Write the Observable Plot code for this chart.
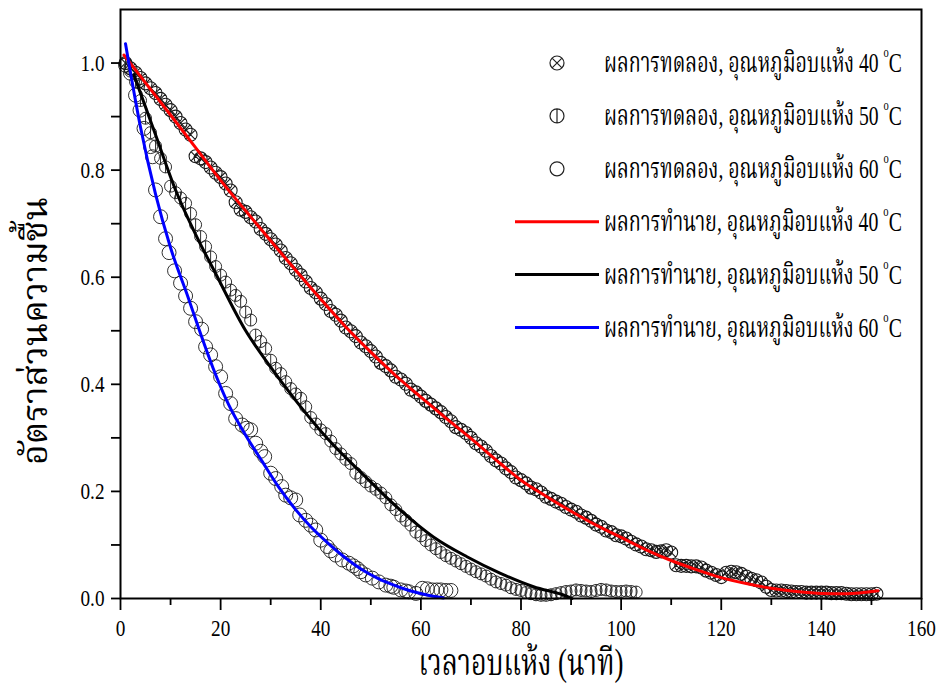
<!DOCTYPE html>
<html><head><meta charset="utf-8">
<script src="https://cdn.jsdelivr.net/npm/d3@7"></script>
<script src="https://cdn.jsdelivr.net/npm/@observablehq/plot@0.6"></script>
<style>
body{margin:0;background:#fff;}
#wrap{position:relative;width:941px;height:684px;background:#fff;}
#wrap svg{position:absolute;left:0;top:0;}
</style></head><body><div id="wrap"></div>
<script>
// ---------- data ----------
const temps = ["40", "50", "60"];
const expPrefix = "ผลการทดลอง, อุณหภูมิอบแห้ง ";
const predPrefix = "ผลการทำนาย, อุณหภูมิอบแห้ง ";
const xTitle = "เวลาอบแห้ง (นาที)";
const yTitle = "อัตราส่วนความชื้น";

const majorX = [0, 20, 40, 60, 80, 100, 120, 140, 160];
const minorX = [10, 30, 50, 70, 90, 110, 130, 150];
const majorY = [0, 0.2, 0.4, 0.6, 0.8, 1.0];
const minorY = [0.1, 0.3, 0.5, 0.7, 0.9];

// experiment 40 C
const t40 = [1,2,3,4,5,6,7,8,9,10,11,12,13,14,15,16,17,18,19,20,21,22,23,24,25,26,27,28,29,30,
31,32,33,34,35,36,37,38,39,40,41,42,43,44,45,46,47,48,49,50,51,52,53,54,55,56,57,58,59,60,
61,62,63,64,65,66,67,68,69,70,71,72,73,74,75,76,77,78,79,80,81,82,83,84,85,86,87,88,89,90,
91,92,93,94,95,96,97,98,99,100,101,102,103,104,105,106,107,108,109,110,111,112,113,114,115,116,117,118,119,120,
121,122,123,124,125,126,127,128,129,130,131,132,133,134,135,136,137,138,139,140,141,142,143,144,145,146,147,148,149,150,151];
const y40 = [1.000,0.990,0.982,0.972,0.962,0.953,0.944,0.933,0.922,0.912,
0.900,0.888,0.876,0.866,0.826,0.822,0.815,0.805,0.795,0.787,
0.775,0.762,0.740,0.726,0.722,0.712,0.704,0.690,0.681,0.671,
0.661,0.650,0.636,0.626,0.614,0.604,0.592,0.580,0.572,0.560,
0.550,0.537,0.530,0.519,0.506,0.499,0.490,0.478,0.471,0.462,
0.452,0.440,0.434,0.426,0.414,0.409,0.401,0.390,0.385,0.377,
0.369,0.362,0.355,0.348,0.339,0.331,0.320,0.315,0.309,0.300,
0.290,0.284,0.276,0.266,0.258,0.252,0.243,0.236,0.226,0.221,
0.215,0.207,0.204,0.198,0.190,0.186,0.181,0.177,0.171,0.166,
0.162,0.155,0.151,0.145,0.138,0.134,0.127,0.124,0.118,0.116,
0.112,0.106,0.101,0.097,0.092,0.090,0.087,0.088,0.090,0.086,
0.062,0.061,0.061,0.060,0.060,0.058,0.052,0.048,0.044,0.040,
0.048,0.050,0.049,0.046,0.041,0.037,0.034,0.030,0.022,0.016,
0.015,0.015,0.014,0.013,0.012,0.012,0.011,0.011,0.011,0.011,
0.011,0.010,0.010,0.010,0.009,0.008,0.008,0.008,0.008,0.008,0.009];

// experiment 50 C
const t50 = [1,2,3,4,5,6,7,8,9,10,11,12,13,14,15,16,17,18,19,20,21,22,23,24,25,26,27,28,29,30,
31,32,33,34,35,36,37,38,39,40,41,42,43,44,45,46,47,48,49,50,51,52,53,54,55,56,57,58,59,60,
61,62,63,64,65,66,67,68,69,70,71,72,73,74,75,76,77,78,79,80,81,82,83,84,85,86,87,88,89,90,
91,92,93,94,95,96,97,98,99,100,101,102,103];
const y50 = [0.999,0.985,0.965,0.930,0.897,0.870,0.845,0.822,0.806,0.770,
0.758,0.748,0.738,0.719,0.698,0.676,0.657,0.638,0.620,0.604,
0.591,0.576,0.566,0.555,0.535,0.520,0.492,0.480,0.467,0.445,
0.430,0.420,0.405,0.392,0.382,0.374,0.358,0.338,0.326,0.315,
0.308,0.294,0.280,0.270,0.260,0.252,0.234,0.226,0.218,0.210,
0.204,0.197,0.188,0.175,0.166,0.154,0.146,0.137,0.124,0.117,
0.108,0.100,0.093,0.086,0.080,0.075,0.070,0.065,0.060,0.055,
0.050,0.046,0.042,0.036,0.031,0.028,0.025,0.020,0.017,0.015,
0.011,0.009,0.007,0.006,0.006,0.007,0.009,0.011,0.013,0.014,
0.016,0.015,0.014,0.013,0.015,0.017,0.016,0.014,0.013,0.013,
0.014,0.013,0.012];

// experiment 60 C
const t60 = [1,2,3,3.9,4.7,6,6.4,7,8,9,9.7,10.8,12,13,14,15,16.2,17,18,19,20,21,22,23,24.3,25.2,26,27,28,28.8,
30,31,32.2,33,34,35,35.8,37,38,39,40,41.3,42,43,44.3,45.6,46.5,47.3,48,49,50.3,51.6,53,54,54.6,
56,57,57.6,59,60.3,61.3,62.3,63.2,64,65,66];
const y60 = [0.996,0.981,0.940,0.912,0.878,0.844,0.825,0.763,0.713,0.672,
0.646,0.612,0.589,0.565,0.542,0.517,0.503,0.470,0.455,0.433,
0.414,0.383,0.364,0.336,0.324,0.318,0.315,0.290,0.275,0.265,
0.234,0.224,0.209,0.193,0.188,0.184,0.156,0.146,0.137,0.128,
0.109,0.097,0.089,0.081,0.072,0.066,0.061,0.056,0.050,0.044,
0.038,0.031,0.025,0.023,0.021,0.016,0.014,0.0125,0.0095,0.019,
0.018,0.016,0.016,0.016,0.015,0.015];

// predicted curves
const tPred40 = [0.7,5,10,15,20,25,30,35,40,45,50,55,60,65,70,75,80,85,90,95,100,105,110,115,120,125,130,135,140,145,151.3];
const yPred40 = [1.015,0.963,0.903,0.842,0.781,0.724,0.668,0.613,0.559,0.507,0.460,0.416,0.376,0.337,0.299,0.259,0.221,0.191,0.163,0.137,0.114,0.091,0.071,0.054,0.039,0.028,0.019,0.013,0.0095,0.009,0.0144];
const tPred50 = [2.67,7,11,15,19,24.95,30,34.9,41.6,48.2,55.9,62.5,69.2,75.9,82.5,89.2,90.2];
const yPred50 = [0.978,0.866,0.763,0.680,0.607,0.501,0.432,0.371,0.296,0.234,0.165,0.115,0.078,0.047,0.022,0.004,0.0];
const tPred60 = [1,4,7,10,13.6,15.6,18.5,21.6,25,28.3,31.6,34.9,38.2,41.6,44.9,48.2,51.5,54.9,58,61,64.5];
const yPred60 = [1.036,0.88,0.755,0.655,0.56,0.505,0.430,0.362,0.305,0.256,0.208,0.167,0.132,0.102,0.076,0.054,0.037,0.024,0.014,0.007,0.001];

const lineColors = ["#ff0000", "#000000", "#0000ff"];

// ---------- symbols ----------
const circleX = {draw(ctx, size){const r=Math.sqrt(size/Math.PI);ctx.moveTo(r,0);ctx.arc(0,0,r,0,2*Math.PI);const d=r*Math.SQRT1_2;ctx.moveTo(-d,-d);ctx.lineTo(d,d);ctx.moveTo(d,-d);ctx.lineTo(-d,d);}};
const circleBar = {draw(ctx, size){const r=Math.sqrt(size/Math.PI);ctx.moveTo(r,0);ctx.arc(0,0,r,0,2*Math.PI);ctx.moveTo(0,-r);ctx.lineTo(0,r);}};
const circleO = {draw(ctx, size){const r=Math.sqrt(size/Math.PI);ctx.moveTo(r,0);ctx.arc(0,0,r,0,2*Math.PI);}};
const syms = [circleX, circleBar, circleO];
const symR = [6.5, 6, 7];

const zip = (t, v) => t.map((d, i) => ({t: d, v: v[i]}));
const exp = [zip(t40, y40), zip(t50, y50), zip(t60, y60)];
const pred = [zip(tPred40, yPred40), zip(tPred50, yPred50), zip(tPred60, yPred60)];

const FONT = "'Liberation Serif','Times New Roman','Noto Serif Thai','Noto Sans Thai',Norasi,Garuda,serif";

const chart = Plot.plot({
  width: 941, height: 684,
  marginLeft: 120, marginRight: 20, marginTop: 9, marginBottom: 86,
  style: {fontFamily: FONT, fontSize: "24px", color: "#000", background: "#fff"},
  x: {domain: [0, 160]},
  y: {domain: [0, 1.1]},
  marks: [
    ...exp.map((d, i) => Plot.dot(d, {x: "t", y: "v", symbol: syms[i], r: symR[i], stroke: "#1a1a1a", strokeWidth: i === 0 ? 1.1 : 0.9, fill: "none"})),
    ...pred.map((d, i) => Plot.line(d, {x: "t", y: "v", stroke: lineColors[i], strokeWidth: 3, curve: "monotone-x"})),
    Plot.axisX(majorX, {tickSize: 12, tickPadding: 8, strokeWidth: 1.8, tickFormat: d => String(d), label: null}),
    Plot.axisX(minorX, {tickSize: 7, strokeWidth: 1.8, tickFormat: () => "", label: null}),
    Plot.axisY(majorY, {tickSize: 9, tickPadding: 7, strokeWidth: 1.8, tickFormat: d => d.toFixed(1), label: null}),
    Plot.axisY(minorY, {tickSize: 9, strokeWidth: 1.8, tickFormat: () => "", label: null}),
    Plot.frame({stroke: "#000", strokeWidth: 2})
  ]
});
const wrap = document.getElementById("wrap");
wrap.appendChild(chart);

// condensed look of the tick labels
d3.select(chart).selectAll("g[aria-label$='tick label'] text").each(function(){
  const tr = this.getAttribute("transform") || "";
  this.setAttribute("transform", tr + " scale(0.8,1)");
});

// ---------- overlay: titles and legend ----------
const ov = d3.select(wrap).append("svg").attr("width", 941).attr("height", 684)
  .style("font-family", FONT).style("pointer-events", "none");

function fit(text, len){
  const w = text.node().getBBox().width;
  if (w > 0) text.attr("transform", `scale(${len / w},1)`);
}

const gx = ov.append("g").attr("transform", "translate(521,675)");
const tx = gx.append("text").attr("text-anchor", "middle").attr("font-size", 38).text(xTitle);
fit(tx, 205);

const gy = ov.append("g").attr("transform", "translate(47,331) rotate(-90)");
const ty = gy.append("text").attr("text-anchor", "middle").attr("font-size", 36).text(yTitle);
fit(ty, 268);

const rowY0 = 63, rowDY = 52.9;
const legend = ov.append("g");
function addLabel(y, prefix, temp){
  const g = legend.append("g").attr("transform", `translate(604,${y + 9})`);
  const t = g.append("text").attr("x", 0).attr("y", 0).attr("font-size", 28);
  t.append("tspan").text(prefix + temp + " ");
  t.append("tspan").attr("font-size", 15).attr("dy", -15).text("o");
  t.append("tspan").attr("dy", 15).text("C");
  fit(t, 298);
}
temps.forEach((temp, i) => {
  const y = rowY0 + i * rowDY;
  legend.append("path").attr("transform", `translate(557,${y})`)
    .attr("d", d3.symbol(syms[i], Math.PI * 7 * 7)()).attr("fill", "none").attr("stroke", "#222").attr("stroke-width", 1.2);
  addLabel(y, expPrefix, temp);
});
temps.forEach((temp, i) => {
  const y = rowY0 + (i + 3) * rowDY;
  legend.append("line").attr("x1", 515).attr("x2", 599).attr("y1", y).attr("y2", y)
    .attr("stroke", lineColors[i]).attr("stroke-width", 3);
  addLabel(y, predPrefix, temp);
});
</script>
</body></html>
